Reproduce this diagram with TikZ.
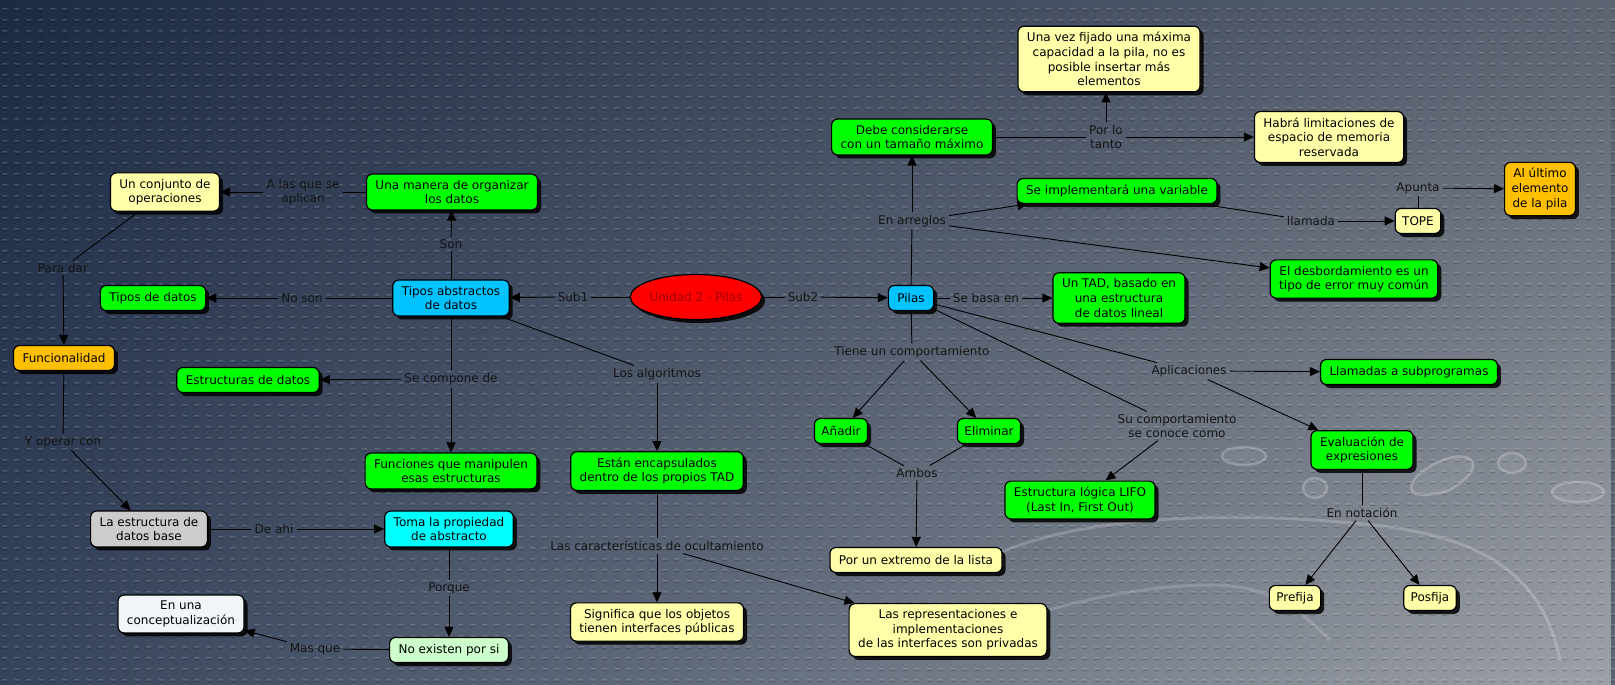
\documentclass[tikz,border=0pt]{standalone}
\usepackage{fontspec}
\setmainfont{DejaVu Sans}
\usetikzlibrary{arrows.meta,shapes.geometric,shadows,patterns,fadings}
\definecolor{cgreen}{RGB}{0,255,0}
\definecolor{cyellow}{RGB}{255,255,170}
\definecolor{cblue}{RGB}{0,195,255}
\definecolor{ccyan}{RGB}{0,255,255}
\definecolor{corange}{RGB}{255,192,0}
\definecolor{cgray}{RGB}{204,204,204}
\definecolor{clgreen}{RGB}{204,255,204}
\definecolor{cwhite}{RGB}{240,245,248}
\definecolor{cred}{RGB}{255,0,0}
\definecolor{cdarkred}{RGB}{160,0,0}
\definecolor{bgUL}{RGB}{28,42,68}
\definecolor{bgUR}{RGB}{92,100,114}
\definecolor{bgLL}{RGB}{54,68,92}
\definecolor{bgLR}{RGB}{158,162,168}
\tikzfading[name=fadebottom, top color=transparent!100, bottom color=transparent!0]
\newcommand\cmfont{\fontsize{12pt}{14.6pt}\selectfont}
\pgfdeclarepatternformonly{cmaplight}{\pgfqpoint{0pt}{0pt}}{\pgfqpoint{12.4pt}{10.6pt}}{\pgfqpoint{12.4pt}{10.6pt}}{\pgfpathrectangle{\pgfqpoint{3.5pt}{4.6pt}}{\pgfqpoint{5pt}{1.5pt}}\pgfusepath{fill}}
\pgfdeclarepatternformonly{cmapdark}{\pgfqpoint{0pt}{0pt}}{\pgfqpoint{12.4pt}{10.6pt}}{\pgfqpoint{12.4pt}{10.6pt}}{\pgfpathrectangle{\pgfqpoint{3.5pt}{3.1pt}}{\pgfqpoint{5pt}{1.5pt}}\pgfusepath{fill}}
\begin{document}
\begin{tikzpicture}[x=1pt,y=-1pt,
  concept/.style={draw=black, line width=1.2pt, rounded corners=6pt, align=center,
    inner xsep=9pt, inner ysep=6pt, minimum height=25pt, font=\cmfont, text=black,
    drop shadow={shadow xshift=3.5pt, shadow yshift=-3.5pt, opacity=0.85, fill=black}},
  gbox/.style={concept, fill=cgreen},
  ybox/.style={concept, fill=cyellow},
  bbox/.style={concept, fill=cblue},
  cybox/.style={concept, fill=ccyan},
  obox/.style={concept, fill=corange},
  graybox/.style={concept, fill=cgray},
  lgbox/.style={concept, fill=clgreen},
  wbox/.style={concept, fill=cwhite},
  lbl/.style={inner xsep=3pt, inner ysep=2.5pt, align=center, font=\cmfont, text=black!92},
  link/.style={draw=black, line width=0.9pt},
  arr/.style={link, -{Triangle[length=10pt,width=9pt]}},
  drop/.style={draw=white, draw opacity=0.22, line width=2.5pt, fill=white, fill opacity=0.06}
]
\useasboundingbox (0,0) rectangle (1615,685);
\shade[left color=bgUL, right color=bgUR] (0,0) rectangle (1615,685);
\shade[left color=bgLL, right color=bgLR, path fading=fadebottom] (0,0) rectangle (1615,685);
\fill[pattern=cmapdark, pattern color=black, opacity=0.18] (0,0) rectangle (1615,685);
\fill[pattern=cmaplight, pattern color=white, opacity=0.16] (0,0) rectangle (1615,685);

% faint water drops
\draw[drop] (1244,456) ellipse (22 and 9);
\draw[drop] (1315,488) ellipse (12 and 10);
\draw[drop] (1512,463) ellipse (14 and 10);
\draw[drop] (1578,492) ellipse (26 and 10);
\draw[drop] (1418,475) .. controls (1460,440) and (1500,460) .. (1450,490) .. controls (1420,500) and (1400,495) .. (1418,475);
\draw[draw=white, draw opacity=0.2, line width=3pt]
  (985,560) .. controls (1060,520) and (1200,510) .. (1340,522)
  .. controls (1460,530) and (1540,560) .. (1560,660);
\draw[draw=white, draw opacity=0.16, line width=3pt]
  (960,640) .. controls (1060,600) and (1150,585) .. (1210,585)
  .. controls (1260,585) and (1290,600) .. (1330,640);

% concepts
\node[ybox] (conj) at (165,192) {Un conjunto de\\operaciones};
\node[gbox] (manera) at (452,192) {Una manera de organizar\\los datos};
\node[bbox] (tad) at (451,298) {Tipos abstractos\\de datos};
\node[gbox] (tdatos) at (153,298) {Tipos de datos};
\node[obox] (func) at (64,358) {Funcionalidad};
\node[gbox] (estr) at (248,380) {Estructuras de datos};
\node[gbox] (funcs) at (451,471) {Funciones que manipulen\\esas estructuras};
\node[graybox] (base) at (149,529) {La estructura de\\datos base};
\node[cybox] (toma) at (449,529) {Toma la propiedad\\de abstracto};
\node[lgbox] (noex) at (449,650) {No existen por si};
\node[wbox] (enuna) at (181,614) {En una\\conceptualización};
\node[ellipse, draw=black, line width=1.2pt, fill=cred, minimum width=113pt, minimum height=45pt, inner sep=0pt,
  font=\cmfont, text=cdarkred,
  drop shadow={shadow xshift=3.5pt, shadow yshift=-3.5pt, opacity=0.85, fill=black}] (unidad) at (696,297) {Unidad 2 - Pilas};
\node[gbox] (encap) at (657,471) {Están encapsulados\\dentro de los propios TAD};
\node[ybox] (signif) at (657,622) {Significa que los objetos\\tienen interfaces públicas};
\node[ybox] (repr) at (948,630) {Las representaciones e\\implementaciones\\de las interfaces son privadas};
\node[bbox] (pilas) at (911,298) {Pilas};
\node[gbox] (untad) at (1119,298) {Un TAD, basado en\\una estructura\\de datos lineal};
\node[gbox] (debe) at (912,137) {Debe considerarse\\con un tamaño máximo};
\node[ybox] (unavez) at (1109,59) {Una vez fijado una máxima\\capacidad a la pila, no es\\posible insertar más\\elementos};
\node[ybox] (habra) at (1329,137) {Habrá limitaciones de\\espacio de memoria\\reservada};
\node[gbox] (seimpl) at (1117,191) {Se implementará una variable};
\node[ybox, inner xsep=7pt] (tope) at (1418,221) {TOPE};
\node[obox, inner xsep=7pt] (ultimo) at (1540,189) {Al último\\elemento\\de la pila};
\node[gbox] (desb) at (1354,279) {El desbordamiento es un\\tipo de error muy común};
\node[gbox] (llam) at (1409,372) {Llamadas a subprogramas};
\node[gbox] (evalu) at (1362,450) {Evaluación de\\expresiones};
\node[ybox, inner xsep=7pt] (prefija) at (1295,598) {Prefija};
\node[ybox, inner xsep=7pt] (posfija) at (1430,598) {Posfija};
\node[gbox, inner xsep=7pt] (anadir) at (841,431) {Añadir};
\node[gbox, inner xsep=7pt] (elim) at (989,431) {Eliminar};
\node[gbox] (lifo) at (1080,500) {Estructura lógica LIFO\\(Last In, First Out)};
\node[ybox] (extremo) at (916,560) {Por un extremo de la lista};

% linking phrases
\node[lbl] (lAplican) at (303,192) {A las que se\\aplican};
\node[lbl] (lSon) at (451,244) {Son};
\node[lbl] (lPara) at (63,268) {Para dar};
\node[lbl] (lNoson) at (302,298) {No son};
\node[lbl] (lSub1) at (573,297) {Sub1};
\node[lbl] (lSub2) at (803,297) {Sub2};
\node[lbl] (lCompone) at (451,379) {Se compone de};
\node[lbl] (lYoperar) at (63,442) {Y operar con};
\node[lbl] (lAlg) at (657,374) {Los algoritmos};
\node[lbl] (lDeahi) at (274,529) {De ahi};
\node[lbl] (lPorque) at (449,588) {Porque};
\node[lbl] (lMasque) at (315,649) {Mas que};
\node[lbl] (lOcult) at (657,546) {Las características de ocultamiento};
\node[lbl] (lTiene) at (912,352) {Tiene un comportamiento};
\node[lbl] (lAmbos) at (917,473) {Ambos};
\node[lbl] (lBasa) at (986,298) {Se basa en};
\node[lbl] (lArreglos) at (912,221) {En arreglos};
\node[lbl] (lPorlo) at (1106,137) {Por lo\\tanto};
\node[lbl] (lLlamada) at (1311,221) {llamada};
\node[lbl] (lApunta) at (1418,188) {Apunta};
\node[lbl] (lAplic) at (1189,371) {Aplicaciones};
\node[lbl] (lSucomp) at (1177,426) {Su comportamiento\\se conoce como};
\node[lbl] (lNotacion) at (1362,513) {En notación};

% connectors
\draw[link] (tad) -- (lSon); \draw[arr] (lSon) -- (manera);
\draw[link] (manera) -- (lAplican); \draw[arr] (lAplican) -- (conj);
\draw[link] (conj) -- (lPara); \draw[arr] (lPara) -- (func);
\draw[link] (func) -- (lYoperar); \draw[arr] (lYoperar) -- (base);
\draw[link] (base) -- (lDeahi); \draw[arr] (lDeahi) -- (toma);
\draw[link] (toma) -- (lPorque); \draw[arr] (lPorque) -- (noex);
\draw[link] (noex) -- (lMasque); \draw[arr] (lMasque) -- (enuna);
\draw[link] (tad) -- (lNoson); \draw[arr] (lNoson) -- (tdatos);
\draw[link] (tad) -- (lCompone); \draw[arr] (lCompone) -- (estr); \draw[arr] (lCompone) -- (funcs);
\draw[link] (unidad) -- (lSub1); \draw[arr] (lSub1) -- (tad);
\draw[link] (unidad) -- (lSub2); \draw[arr] (lSub2) -- (pilas);
\draw[link] (tad) -- (lAlg); \draw[arr] (lAlg) -- (encap);
\draw[link] (encap) -- (lOcult); \draw[arr] (lOcult) -- (signif); \draw[arr] (lOcult) -- (repr);
\draw[link] (pilas) -- (lBasa); \draw[arr] (lBasa) -- (untad);
\draw[link] (pilas) -- (lArreglos); \draw[arr] (lArreglos) -- (debe); \draw[arr] (lArreglos) -- (seimpl); \draw[arr] (lArreglos) -- (desb);
\draw[link] (debe) -- (lPorlo); \draw[arr] (lPorlo.north) -- (lPorlo.north |- unavez.south); \draw[arr] (lPorlo) -- (habra);
\draw[link] (seimpl) -- (lLlamada); \draw[arr] (lLlamada) -- (tope);
\draw[link] (tope) -- (lApunta); \draw[arr] (lApunta) -- (ultimo);
\draw[link] (pilas) -- (lTiene); \draw[arr] (lTiene) -- (anadir); \draw[arr] (lTiene) -- (elim);
\draw[link] (anadir) -- (lAmbos); \draw[link] (elim) -- (lAmbos); \draw[arr] (lAmbos) -- (extremo);
\draw[link] (pilas) -- (lSucomp); \draw[arr] (lSucomp) -- (lifo);
\draw[link] (pilas) -- (lAplic); \draw[arr] (lAplic) -- (llam); \draw[arr] (lAplic) -- (evalu);
\draw[link] (evalu) -- (lNotacion); \draw[arr] (lNotacion) -- (prefija); \draw[arr] (lNotacion) -- (posfija);
\end{tikzpicture}
\end{document}
